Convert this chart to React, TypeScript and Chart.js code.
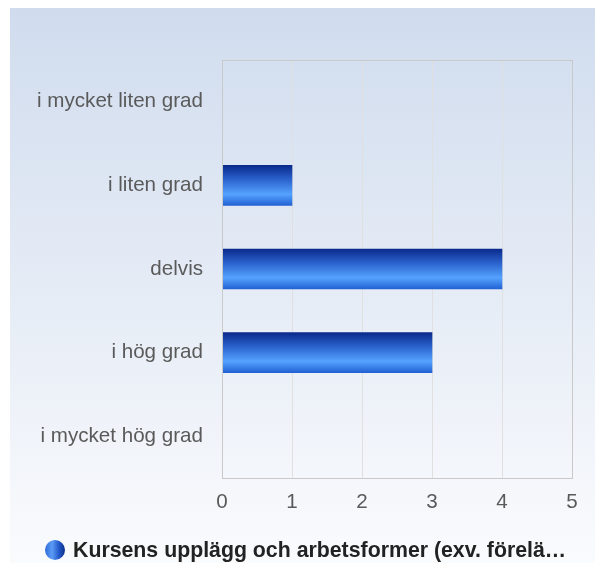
import React, { useEffect, useRef } from "react";
import { Chart, registerables } from "chart.js";
Chart.register(...registerables);

const categories = ["i mycket liten grad", "i liten grad", "delvis", "i hög grad", "i mycket hög grad"];
const values = [0, 1, 4, 3, 0];
const seriesName = "Kursens upplägg och arbetsformer (exv. förelä…";
const xMin = 0;
const xMax = 5;

const FONT = "'Liberation Sans', Arial, Helvetica, sans-serif";

export default function App() {
  const ref = useRef<HTMLCanvasElement>(null);
  useEffect(() => {
    const canvas = ref.current!;
    const bgPlugin = {
      id: "bg",
      beforeDraw(chart: any) {
        const { ctx, width, height } = chart;
        const g = ctx.createLinearGradient(0, 8, 0, height);
        g.addColorStop(0, "#d0dcee");
        g.addColorStop(1, "#fafbfd");
        ctx.save();
        ctx.fillStyle = g;
        ctx.fillRect(10, 8, width - 10, height - 8);
        ctx.restore();
      },
      afterDraw(chart: any) {
        const { ctx, chartArea: a } = chart;
        ctx.save();
        ctx.strokeStyle = "#c9c9c9";
        ctx.lineWidth = 1;
        ctx.strokeRect(Math.round(a.left) + 0.5, Math.round(a.top) + 0.5, Math.round(a.right - a.left), Math.round(a.bottom - a.top));
        // custom legend
        const cx = 55;
        const cy = 550;
        const r = 10;
        const g = ctx.createLinearGradient(cx - r, 0, cx + r, 0);
        g.addColorStop(0, "#2f6ad8");
        g.addColorStop(0.35, "#5b9cf6");
        g.addColorStop(0.7, "#2258c8");
        g.addColorStop(1, "#0c2f88");
        ctx.beginPath();
        ctx.arc(cx, cy, r, 0, Math.PI * 2);
        ctx.fillStyle = g;
        ctx.fill();
        ctx.fillStyle = "#222";
        ctx.font = `bold 21.3px ${FONT}`;
        ctx.textBaseline = "middle";
        ctx.textAlign = "left";
        ctx.fillText(chart.data.datasets[0].label, 73, cy + 1);
        ctx.restore();
      },
    };
    const thickness = 40;
    const chart = new Chart(canvas, {
      type: "bar",
      data: {
        labels: categories,
        datasets: [
          {
            label: seriesName,
            data: values,
            barThickness: thickness,
            borderWidth: 0,
            backgroundColor: (c: any) => {
              const ch = c.chart;
              const y = ch.scales && ch.scales.y;
              if (!y || !ch.chartArea || c.dataIndex === undefined) return "#2a66d8";
              const cy = y.getPixelForValue(c.dataIndex);
              const g = ch.ctx.createLinearGradient(0, cy - thickness / 2, 0, cy + thickness / 2);
              g.addColorStop(0, "#0a2a8c");
              g.addColorStop(0.35, "#2a62cc");
              g.addColorStop(0.72, "#55a2ff");
              g.addColorStop(1, "#2262d4");
              return g;
            },
          },
        ],
      },
      options: {
        indexAxis: "y",
        responsive: false,
        animation: false,
        devicePixelRatio: 1,
        layout: { padding: { left: 10, top: 60, right: 23, bottom: 26 } },
        scales: {
          x: {
            min: xMin,
            max: xMax,
            ticks: { stepSize: 1, color: "#5a5a5a", font: { family: FONT, size: 20.6 }, padding: 12 },
            grid: { color: "#e0e0e0", drawTicks: false },
            border: { display: false },
            afterFit(s: any) {
              s.height = 59;
            },
          },
          y: {
            ticks: { color: "#5a5a5a", font: { family: FONT, size: 20.6 }, padding: 19 },
            grid: { display: false, drawTicks: false },
            border: { display: false },
            afterFit(s: any) {
              s.width = 212;
            },
          },
        },
        plugins: {
          tooltip: { enabled: false },
          legend: { display: false },
        },
      },
      plugins: [bgPlugin],
    } as any);
    return () => chart.destroy();
  }, []);
  return (
    <div style={{ position: "fixed", left: 0, top: 0, width: 595, height: 563 }}>
      <canvas ref={ref} width={595} height={563} style={{ width: 595, height: 563, display: "block" }} />
    </div>
  );
}
